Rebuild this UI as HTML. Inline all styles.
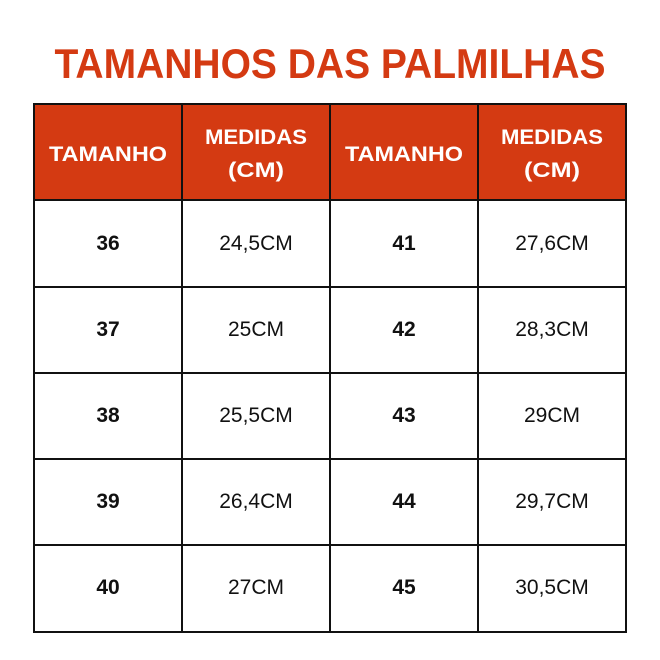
<!DOCTYPE html>
<html><head><meta charset="utf-8"><style>html,body{margin:0;padding:0;background:#fff}svg{display:block}</style></head>
<body>
<svg width="660" height="660" viewBox="0 0 660 660" xmlns="http://www.w3.org/2000/svg" font-family="Liberation Sans, sans-serif">
<rect width="660" height="660" fill="#fff"/>
<text x="330" y="78" text-anchor="middle" font-size="42" font-weight="bold" fill="#d43a12" textLength="551" lengthAdjust="spacingAndGlyphs">TAMANHOS DAS PALMILHAS</text>
<rect x="34" y="104" width="592" height="96" fill="#d43a12"/>
<g stroke="#111" stroke-width="2" fill="none">
<rect x="34" y="104" width="592" height="528"/>
<line x1="182" y1="104" x2="182" y2="632"/><line x1="330" y1="104" x2="330" y2="632"/><line x1="478" y1="104" x2="478" y2="632"/>
<line x1="34" y1="200" x2="626" y2="200"/><line x1="34" y1="287" x2="626" y2="287"/><line x1="34" y1="373" x2="626" y2="373"/><line x1="34" y1="459" x2="626" y2="459"/><line x1="34" y1="545" x2="626" y2="545"/>
</g>
<g fill="#fff" font-weight="bold" font-size="21" text-anchor="middle">
<text x="108" y="161" textLength="118" lengthAdjust="spacingAndGlyphs">TAMANHO</text>
<text x="256" y="144" textLength="102" lengthAdjust="spacingAndGlyphs">MEDIDAS</text>
<text x="256" y="177" textLength="56" lengthAdjust="spacingAndGlyphs">(CM)</text>
<text x="404" y="161" textLength="118" lengthAdjust="spacingAndGlyphs">TAMANHO</text>
<text x="552" y="144" textLength="102" lengthAdjust="spacingAndGlyphs">MEDIDAS</text>
<text x="552" y="177" textLength="56" lengthAdjust="spacingAndGlyphs">(CM)</text>
</g>
<g font-size="21" text-anchor="middle" fill="#111">
<g font-weight="bold">
<text x="108" y="250">36</text><text x="108" y="336">37</text><text x="108" y="422">38</text><text x="108" y="508">39</text><text x="108" y="594">40</text>
<text x="404" y="250">41</text><text x="404" y="336">42</text><text x="404" y="422">43</text><text x="404" y="508">44</text><text x="404" y="594">45</text>
</g>
<text x="256" y="250">24,5CM</text><text x="256" y="336">25CM</text><text x="256" y="422">25,5CM</text><text x="256" y="508">26,4CM</text><text x="256" y="594">27CM</text>
<text x="552" y="250">27,6CM</text><text x="552" y="336">28,3CM</text><text x="552" y="422">29CM</text><text x="552" y="508">29,7CM</text><text x="552" y="594">30,5CM</text>
</g>
</svg>
</body></html>
